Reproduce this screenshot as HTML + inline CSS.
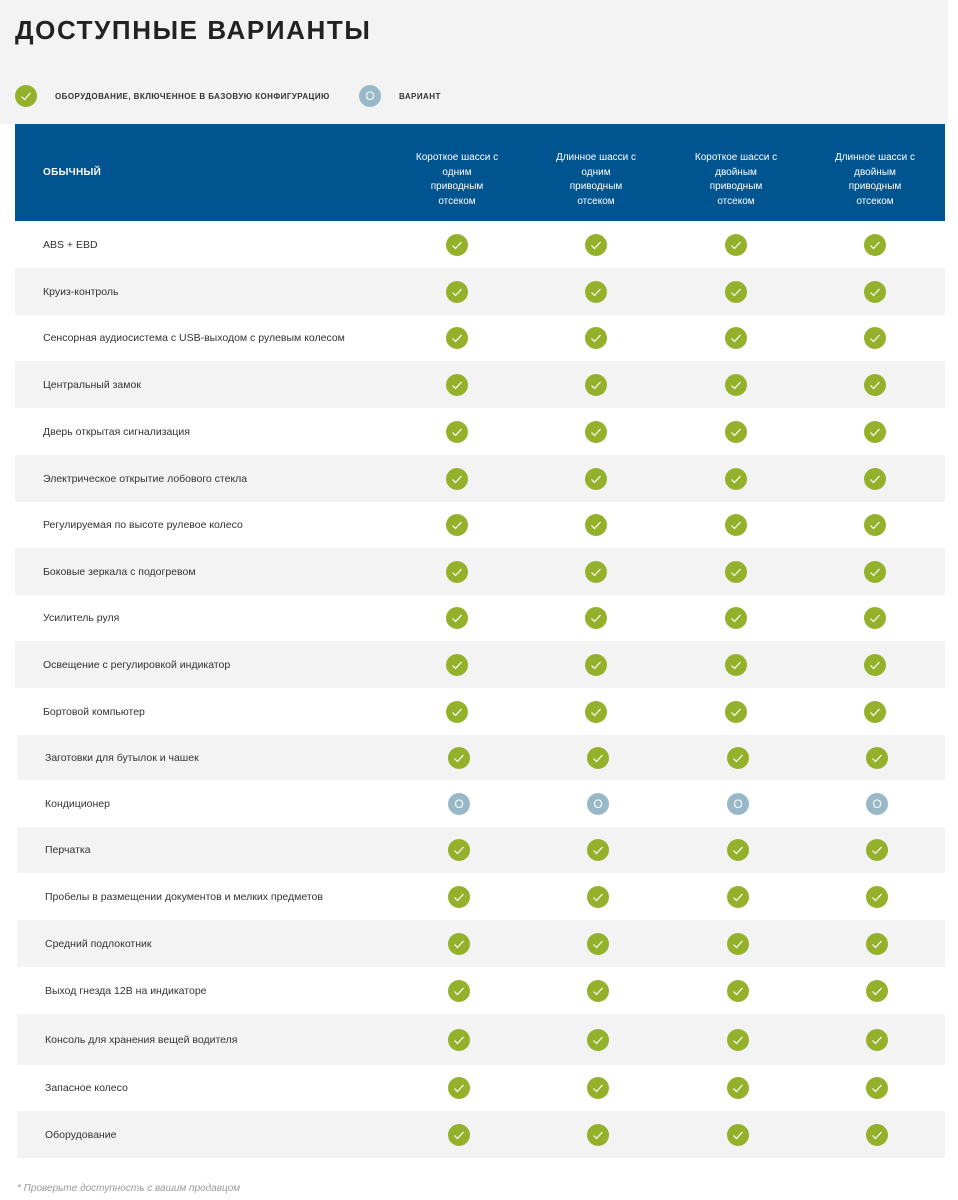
<!DOCTYPE html><html><head><meta charset="utf-8"><style>
*{margin:0;padding:0;box-sizing:border-box}
body{width:958px;height:1200px;background:#fff;font-family:"Liberation Sans","DejaVu Sans",sans-serif;position:relative;overflow:hidden;color:#333}
.top{position:absolute;left:0;top:0;width:948px;height:124px;background:#f3f3f3}
h1{position:absolute;left:15px;top:15px;font-size:26px;font-weight:bold;color:#222;letter-spacing:1.6px}
.ic{position:absolute;width:22px;height:22px;border-radius:50%;background:#95b12c;color:#fff;font-size:12px;text-align:center;line-height:22px}
.ic svg{position:absolute;left:0;top:0}
.ic.o{background:#98b8c8;font-size:12px}
.lg{position:absolute;font-size:8px;font-weight:bold;color:#333;top:92px;letter-spacing:0.45px}
.hd{position:absolute;left:15px;top:124px;width:930px;height:97px;background:#00548f}
.hd .t{position:absolute;left:28px;top:43px;color:#fff;font-size:10px;font-weight:bold;letter-spacing:0.3px}
.hd .c{position:absolute;top:27px;width:120px;color:#fff;font-size:10px;text-align:center;line-height:14.5px;white-space:nowrap}
.r{position:absolute;font-size:10.5px;color:#333}
.r.g{background:#f3f3f3}
.r span{position:absolute;left:28px}
.foot{position:absolute;left:17px;top:1183px;font-size:10px;font-style:italic;color:#999}
</style></head><body>
<div class="top"></div>
<h1>ДОСТУПНЫЕ ВАРИАНТЫ</h1>
<div class="ic" style="left:15px;top:85px"><svg width="22" height="22"><path d="M6.5 11.5l3 3 6-6.5" fill="none" stroke="#fff" stroke-width="1.2"/></svg></div>
<div class="lg" style="left:55px">ОБОРУДОВАНИЕ, ВКЛЮЧЕННОЕ В БАЗОВУЮ КОНФИГУРАЦИЮ</div>
<div class="ic o" style="left:359px;top:85px">O</div>
<div class="lg" style="left:399px">ВАРИАНТ</div>
<div class="hd"><div class="t">ОБЫЧНЫЙ</div>
<div class="c" style="left:382px">Короткое шасси с<br>одним<br>приводным<br>отсеком</div>
<div class="c" style="left:521px">Длинное шасси с<br>одним<br>приводным<br>отсеком</div>
<div class="c" style="left:661px">Короткое шасси с<br>двойным<br>приводным<br>отсеком</div>
<div class="c" style="left:800px">Длинное шасси с<br>двойным<br>приводным<br>отсеком</div>
</div>
<div id="rows"></div>
<div class="foot">* Проверьте доступность с вашим продавцом</div>
<script>
var rows=[["ABS + EBD",221,268],["Круиз-контроль",268,315],["Сенсорная аудиосистема с USB-выходом с рулевым колесом",315,361],["Центральный замок",361,408],["Дверь открытая сигнализация",408,455],["Электрическое открытие лобового стекла",455,502],["Регулируемая по высоте рулевое колесо",502,548],["Боковые зеркала с подогревом",548,595],["Усилитель руля",595,641],["Освещение с регулировкой индикатор",641,688],["Бортовой компьютер",688,735],["Заготовки для бутылок и чашек",735,780],["Кондиционер",780,827],["Перчатка",827,873],["Пробелы в размещении документов и мелких предметов",873,920],["Средний подлокотник",920,967],["Выход гнезда 12В на индикаторе",967,1014],["Консоль для хранения вещей водителя",1014,1065],["Запасное колесо",1065,1111],["Оборудование",1111,1158]];
var chk='<svg width="22" height="22"><path d="M6.5 11.5l3 3 6-6.5" fill="none" stroke="#fff" stroke-width="1.2"/></svg>';
var h="";rows.forEach(function(r,i){var late=i>=11;var dx=late?2:0;var hh=r[2]-r[1];var cy=(r[1]+r[2])/2;
h+='<div class="r'+(i%2?' g':'')+'" style="top:'+r[1]+'px;height:'+hh+'px;left:'+(15+dx)+'px;width:'+(930-dx)+'px"><span style="top:'+(hh/2-6)+'px">'+r[0]+'</span></div>';
[457,596,736,875].forEach(function(x){var o=(i==12);h+='<div class="ic'+(o?' o':'')+'" style="left:'+(x+dx-11)+'px;top:'+(cy-11)+'px">'+(o?'O':chk)+'</div>';});});
document.getElementById('rows').innerHTML=h;
</script>
</body></html>
